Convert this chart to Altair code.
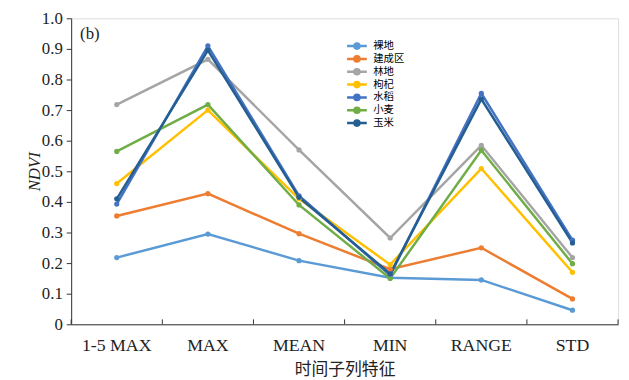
import altair as alt
import pandas as pd

features = ["1-5 MAX", "MAX", "MEAN", "MIN", "RANGE", "STD"]
classes = ["裸地", "建成区", "林地", "枸杞", "水稻", "小麦", "玉米"]
colors = ["#5B9BD5", "#ED7D31", "#A5A5A5", "#FFC000", "#4472C4", "#70AD47", "#255E91"]

v_luodi = [0.218, 0.295, 0.208, 0.152, 0.145, 0.046]
v_jianchengqu = [0.354, 0.427, 0.296, 0.180, 0.250, 0.083]
v_lindi = [0.718, 0.866, 0.570, 0.282, 0.585, 0.218]
v_gouqi = [0.460, 0.700, 0.410, 0.195, 0.509, 0.170]
v_shuidao = [0.393, 0.910, 0.420, 0.160, 0.755, 0.275]
v_xiaomai = [0.565, 0.718, 0.390, 0.150, 0.569, 0.198]
v_yumi = [0.410, 0.895, 0.415, 0.165, 0.736, 0.266]

series = [v_luodi, v_jianchengqu, v_lindi, v_gouqi, v_shuidao, v_xiaomai, v_yumi]
rows = []
for ci, (c, vals) in enumerate(zip(classes, series)):
    for f, v in zip(features, vals):
        rows.append({"feature": f, "class": c, "value": v, "order": ci})
df = pd.DataFrame(rows)

serif = "Liberation Serif"
cjk = "Noto Sans CJK SC"
W, H = 554, 310

xscale = alt.Scale(type="band", domain=features, paddingInner=0, paddingOuter=0)
color = alt.Color("class:N", scale=alt.Scale(domain=classes, range=colors),
                  legend=alt.Legend(title=None, orient="none", legendX=278, legendY=22,
                                    symbolType="M-1,0H1M-0.26,0A0.26,0.26 0 1,0 0.26,0A0.26,0.26 0 1,0 -0.26,0",
                                    symbolSize=400, symbolStrokeWidth=2.5,
                                    labelFont=cjk, labelFontSize=10.5, rowPadding=0,
                                    symbolOffset=0, labelOffset=5, clipHeight=12.3))

lines = alt.Chart(df).mark_line(point=alt.OverlayMarkDef(size=28, filled=True), strokeWidth=2.5).encode(
    x=alt.X("feature:N", scale=xscale, bandPosition=0.5, sort=features,
            axis=alt.Axis(title="时间子列特征", ticks=False, labelAngle=0, labelFont=serif,
                          labelFontSize=18, labelColor="#222", titleFont=cjk, titleFontSize=17,
                          titleFontWeight="normal", titleColor="#222", labelPadding=13,
                          domainColor="#333", titlePadding=7)),
    y=alt.Y("value:Q", scale=alt.Scale(domain=[0, 1], nice=False),
            axis=alt.Axis(title="NDVI", values=[i / 10 for i in range(11)],
                          labelExpr="datum.value == 0 ? '0' : format(datum.value, '.1f')",
                          labelFont=serif, labelFontSize=17, labelColor="#222", labelPadding=4,
                          titleFont=serif, titleFontStyle="italic", titleFontWeight="normal",
                          titleFontSize=17, titleColor="#222", tickColor="#333", tickSize=5,
                          titleX=-37, titleY=H / 2, titleAlign="center", titleBaseline="middle",
                          domainColor="#333", grid=False)),
    color=color,
    order=alt.Order("order:Q"),
    detail="class:N",
)

tick_df = pd.DataFrame({"feature": features})
xticks = alt.Chart(tick_df).mark_rule(color="#333", strokeWidth=1).encode(
    x=alt.X("feature:N", scale=xscale, bandPosition=0, sort=features),
    y=alt.value(H - 5), y2=alt.value(H))
xticks_end = alt.Chart(pd.DataFrame({"feature": [features[-1]]})).mark_rule(color="#333", strokeWidth=1).encode(
    x=alt.X("feature:N", scale=xscale, bandPosition=1, sort=features),
    y=alt.value(H - 5), y2=alt.value(H))

label = alt.Chart(pd.DataFrame({"t": ["(b)"]})).mark_text(
    font=serif, fontSize=17, align="left", baseline="middle", color="#222").encode(
    text="t:N", x=alt.value(9), y=alt.value(16))

chart = alt.layer(lines, xticks, xticks_end, label).properties(
    width=W, height=H,
    autosize=alt.AutoSizeParams(type="none"),
    padding={"left": 64, "top": 8, "right": 3, "bottom": 54},
).configure_view(stroke=None).configure(background="white")

chart.save("out.html", embed_options={"renderer": "svg", "actions": False})
